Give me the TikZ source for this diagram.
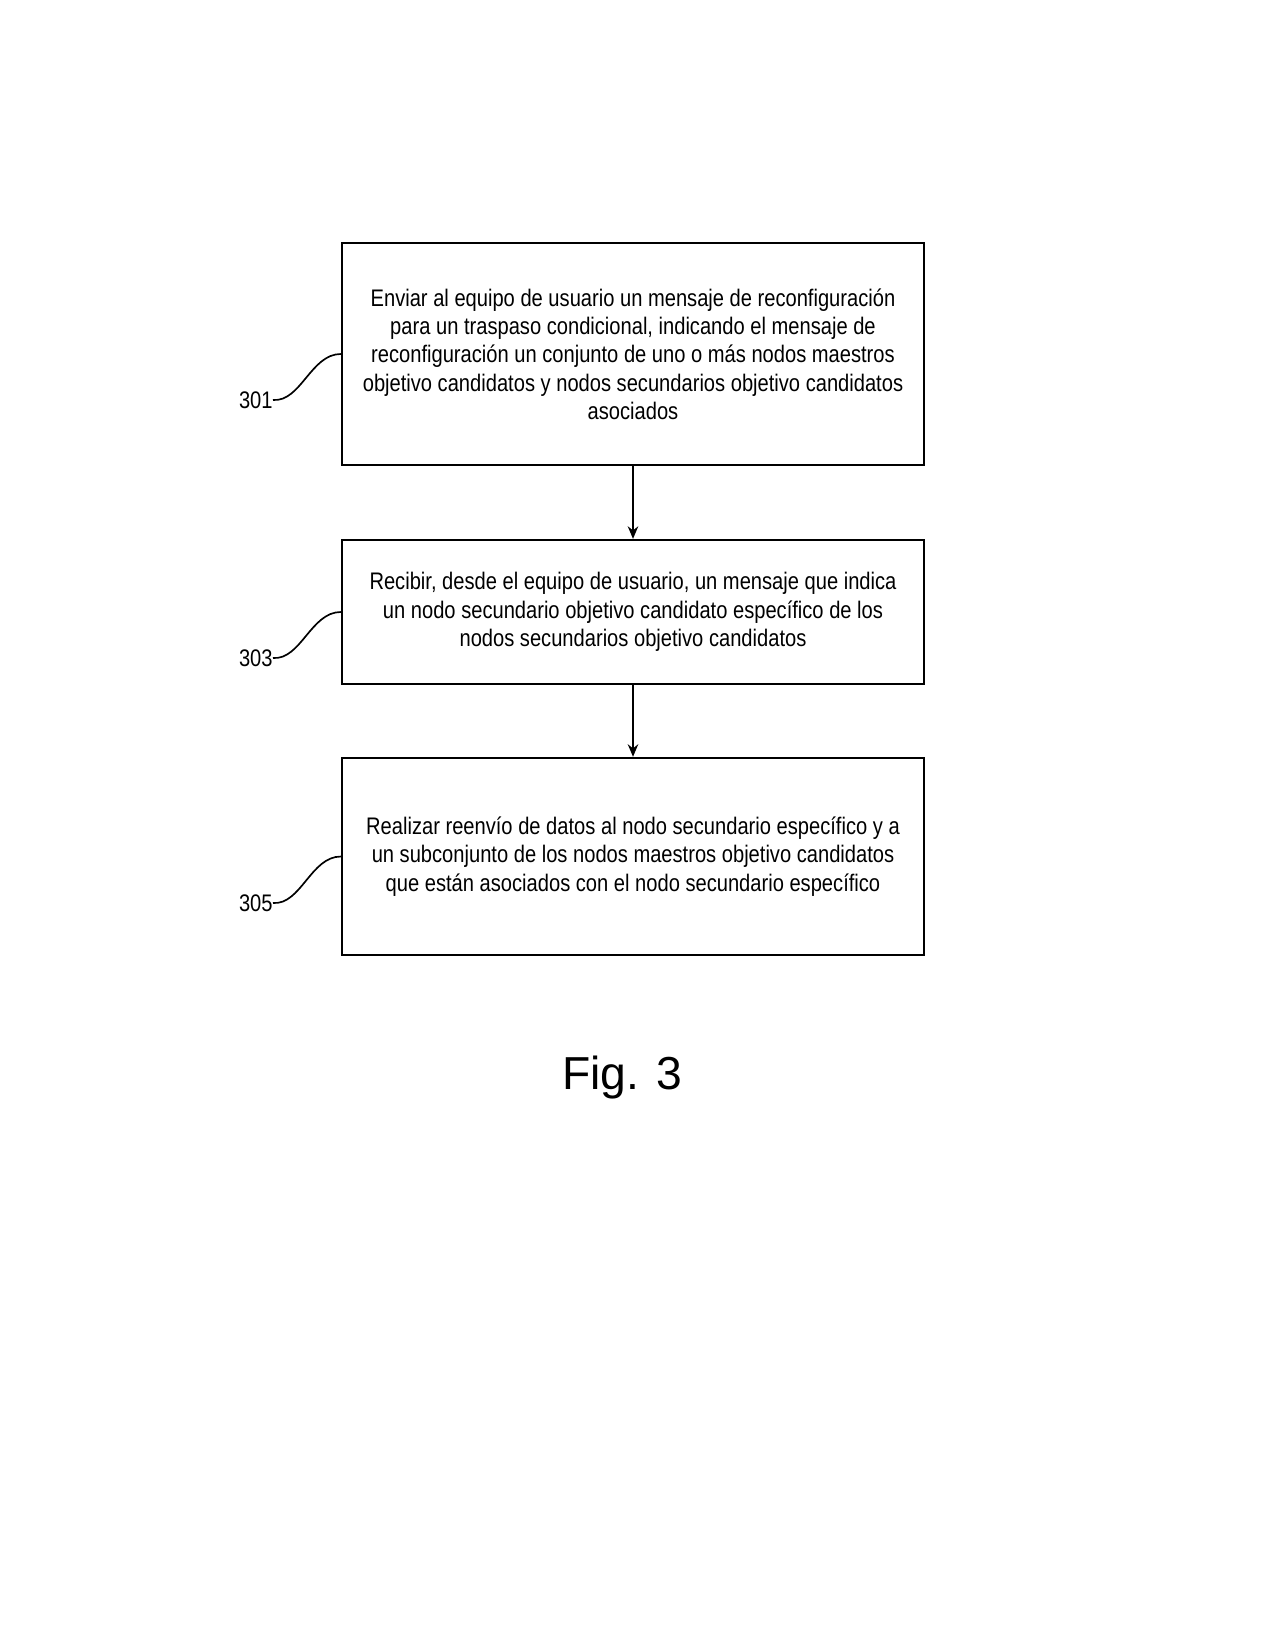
\documentclass[tikz,border=0pt]{standalone}
\usepackage{fontspec}
\setmainfont{Liberation Sans}[FakeStretch=0.84]
\newfontfamily\figfont{Liberation Sans}
\usetikzlibrary{arrows.meta}
\begin{document}
\begin{tikzpicture}[x=0.48pt,y=-0.48pt,
  stepbox/.style={draw,line width=1.1pt,minimum width=279.4pt,align=center,inner sep=0pt,font=\fontsize{11.5}{13.6}\selectfont},
  reflabel/.style={anchor=east,inner sep=0pt,font=\fontsize{11.5}{13.6}\selectfont},
  flow/.style={line width=1pt,-{Stealth[length=6pt,width=5pt]}},
  lead/.style={line width=0.8pt}]
\useasboundingbox (0,0) rectangle (1275,1650);
\node[stepbox,minimum height=106.6pt] (b1) at (633,354) {Enviar al equipo de usuario un mensaje de reconfiguración\\para un traspaso condicional, indicando el mensaje de\\reconfiguración un conjunto de uno o más nodos maestros\\objetivo candidatos y nodos secundarios objetivo candidatos\\asociados};
\node[stepbox,minimum height=69.1pt] (b2) at (633,612) {Recibir, desde el equipo de usuario, un mensaje que indica\\un nodo secundario objetivo candidato específico de los\\nodos secundarios objetivo candidatos};
\node[stepbox,minimum height=94.6pt] (b3) at (633,856.5) {Realizar reenvío de datos al nodo secundario específico y a\\un subconjunto de los nodos maestros objetivo candidatos\\que están asociados con el nodo secundario específico};
\draw[flow] (b1) -- (b2);
\draw[flow] (b2) -- (b3);
\node[reflabel] (l1) at (273,400) {301};
\node[reflabel] (l2) at (273,658) {303};
\node[reflabel] (l3) at (273,903) {305};
\draw[lead] (l1.east) .. controls +(28,2) and +(-30,0) .. (b1.west);
\draw[lead] (l2.east) .. controls +(28,2) and +(-30,0) .. (b2.west);
\draw[lead] (l3.east) .. controls +(28,2) and +(-30,0) .. (b3.west);
\node[font=\figfont\fontsize{22.2}{26}\selectfont] (fig) at (622,1078) {Fig. 3};
\end{tikzpicture}
\end{document}
